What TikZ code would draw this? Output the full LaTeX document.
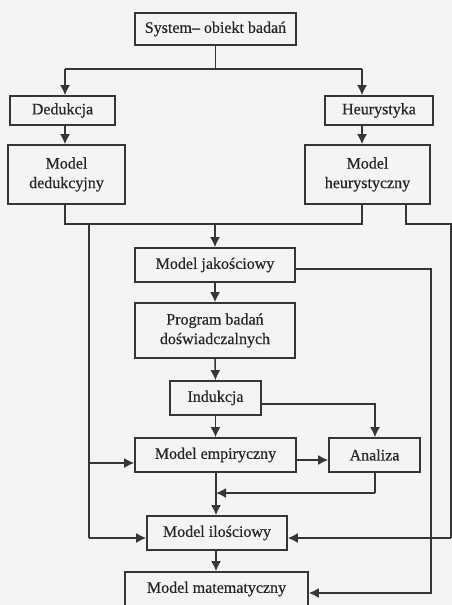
\documentclass[tikz,border=0pt]{standalone}
\usepackage{fontspec}
\setmainfont[FakeBold=0.5]{Liberation Serif}
\usetikzlibrary{arrows.meta}
\definecolor{ink}{HTML}{363636}
\definecolor{paper}{HTML}{F4F4F2}
\definecolor{txt}{HTML}{262626}
\tikzset{
  box/.style={draw=ink, line width=1.7pt, fill=paper, text=txt, align=center, inner sep=0pt, font=\fontsize{16}{19.5}\selectfont},
  conn/.style={draw=ink, line width=1.5pt},
  arr/.style={conn, -{Latex[length=10pt,width=10pt]}},
}
\begin{document}
\begin{tikzpicture}[x=1pt,y=-1pt]
\fill[paper] (0,0) rectangle (452,605);
\useasboundingbox (0,0) rectangle (452,605);
\clip (0,0) rectangle (452,605);

\node[box, minimum width=161pt, minimum height=32pt] (sys) at (215.5,29) {System– obiekt badań};
\node[box, minimum width=105pt, minimum height=29pt] (ded) at (62.5,110.5) {Dedukcja};
\node[box, minimum width=108pt, minimum height=29pt] (heu) at (379,110.5) {Heurystyka};
\node[box, minimum width=117pt, minimum height=59pt] (mded) at (66.5,174.5) {Model\\dedukcyjny};
\node[box, minimum width=125pt, minimum height=59pt] (mheu) at (367.5,174.5) {Model\\heurystyczny};
\node[box, minimum width=160pt, minimum height=34pt] (jak) at (215,265) {Model jakościowy};
\node[box, minimum width=160pt, minimum height=55pt] (prog) at (215,330.5) {Program badań\\doświadczalnych};
\node[box, minimum width=91pt, minimum height=34pt] (ind) at (215.5,398) {Indukcja};
\node[box, minimum width=161pt, minimum height=34pt] (emp) at (215.5,455) {Model empiryczny};
\node[box, minimum width=91pt, minimum height=34pt] (ana) at (374.5,455) {Analiza};
\node[box, minimum width=140pt, minimum height=34pt] (ilo) at (217,533) {Model ilościowy};
\node[box, minimum width=183pt, minimum height=34pt] (mat) at (216.5,589) {Model matematyczny};

\coordinate (s1) at (215.5,69);
\coordinate (lft) at (65,69);
\coordinate (rgt) at (362,69);
\coordinate (j1) at (215,224);
\coordinate (jl) at (65,224);
\coordinate (jr) at (362,224);
\coordinate (ll) at (89,224);
\coordinate (hr1) at (406,224);
\coordinate (hr2) at (451,224);
\coordinate (hr3) at (451,538);
\coordinate (jk) at (431,269);
\coordinate (jk2) at (431,593);
\coordinate (ik) at (375,404);
\coordinate (ak) at (375,493);
\coordinate (ek) at (216,493);
\coordinate (lb) at (89,538);
\coordinate (le) at (89,463);
\coordinate (em) at (300,460);

\draw[conn] (sys.south) -- (s1);
\draw[conn] (lft) -- (rgt);
\draw[arr] (lft) -- (lft |- ded.north);
\draw[arr] (rgt) -- (rgt |- heu.north);
\draw[arr] (lft |- ded.south) -- (lft |- mded.north);
\draw[arr] (rgt |- heu.south) -- (rgt |- mheu.north);
\draw[conn] (jl |- mded.south) -- (jl) -- (jr) -- (jr |- mheu.south);
\draw[arr] (j1) -- (jak.north);
\draw[conn] (hr1 |- mheu.south) -- (hr1) -- (hr2) -- (hr3);
\draw[arr] (hr3) -- (hr3 -| ilo.east);
\draw[conn] (ll) -- (lb);
\draw[arr] (lb) -- (lb -| ilo.west);
\draw[arr] (le) -- (le -| emp.west);
\draw[arr] (jk -| jak.east) -- (jk) -- (jk2) -- (jk2 -| mat.east);
\draw[arr] (jak.south) -- (prog.north);
\draw[arr] (prog.south) -- (ind.north);
\draw[arr] (ik -| ind.east) -- (ik) -- (ik |- ana.north);
\draw[arr] (ind.south) -- (ind.south |- emp.north);
\draw[arr] (em -| emp.east) -- (em -| ana.west);
\draw[conn] (ak |- ana.south) -- (ak);
\draw[arr] (ak) -- (ek);
\draw[arr] (ek |- emp.south) -- (ek |- ilo.north);
\draw[arr] (ek |- ilo.south) -- (ek |- mat.north);
\end{tikzpicture}
\end{document}
